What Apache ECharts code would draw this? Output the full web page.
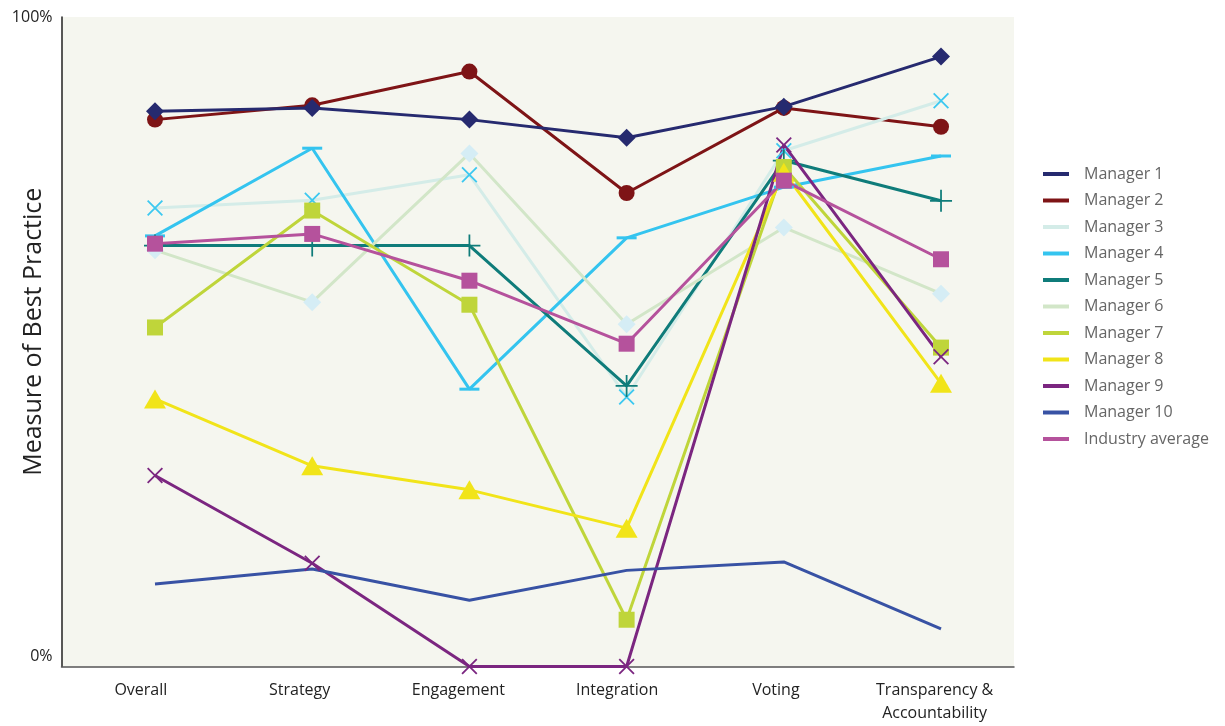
<!DOCTYPE html>
<html>
<head>
<meta charset="utf-8">
<script src="https://cdn.jsdelivr.net/npm/echarts@6/dist/echarts.min.js"></script>
<style>
  html, body { margin: 0; padding: 0; background: #fff; }
  #chart { width: 1225px; height: 726px; }
</style>
</head>
<body>
<div id="chart"></div>
<script>
// === Data ====================================================================
const categories = ['Overall', 'Strategy', 'Engagement', 'Integration', 'Voting', 'Transparency &\nAccountability'];
const yTicks = [0, 100];

const manager1  = [85.5, 86.0, 84.2, 81.4, 86.2, 93.9];
const manager2  = [84.2, 86.4, 91.6, 72.9, 86.0, 83.1];
const manager3  = [70.6, 71.8, 75.7, 41.5, 79.4, 87.1];
const manager4  = [66.3, 79.8, 42.7, 66.0, 73.8, 78.6];
const manager5  = [64.8, 64.8, 64.8, 43.2, 77.9, 71.7];
const manager6  = [64.1, 56.1, 79.0, 52.7, 67.6, 57.4];
const manager7  = [52.2, 70.2, 55.7,  7.2, 76.9, 49.1];
const manager8  = [41.2, 30.9, 27.2, 21.3, 76.1, 43.6];
const manager9  = [29.4, 15.9,  0.0,  0.0, 80.3, 47.7];
const manager10 = [12.7, 15.0, 10.2, 14.8, 16.1,  5.8];
const industry  = [65.1, 66.6, 59.4, 49.7, 74.8, 62.7];

// === Estilos =================================================================
const FONT = '"Open Sans", "Noto Sans", sans-serif';
const SYM_X    = 'path://M0,0.8L0.8,0L10,9.2L9.2,10ZM9.2,0L10,0.8L0.8,10L0,9.2Z';
const SYM_PLUS = 'path://M0,4.6H10V5.4H0ZM4.6,0H5.4V10H4.6Z';

// name, data, line color, marker color, symbol, size
const SERIES = [
  ['Manager 1',  manager1,  '#262a6f', '#262a6f', 'diamond',  [18, 18]],
  ['Manager 2',  manager2,  '#7e1416', '#7e1416', 'circle',   16],
  ['Manager 3',  manager3,  '#d4ece8', '#3cc8f0', SYM_X,      16],
  ['Manager 4',  manager4,  '#34c4ef', '#34c4ef', 'rect',     [20, 3]],
  ['Manager 5',  manager5,  '#0f7c7a', '#0f7c7a', SYM_PLUS,   22],
  ['Manager 6',  manager6,  '#d2e6c8', '#d5edf5', 'diamond',  [18, 18]],
  ['Manager 7',  manager7,  '#bfd53a', '#bfd53a', 'rect',     16],
  ['Manager 8',  manager8,  '#f1e419', '#f1e419', 'triangle', [22, 19]],
  ['Manager 9',  manager9,  '#7b2680', '#7b2680', SYM_X,      16],
  ['Manager 10', manager10, '#3852a4', '#3852a4', 'none',     0],
  ['Industry average', industry, '#b5529c', '#b5529c', 'rect', 16]
];

// eje de datos oculto: x=155 en 0 y x=941 en 5 (grid 61.5 -> 1014)
const X_MIN = -0.5948, X_MAX = 5.4642;

const chart = echarts.init(document.getElementById('chart'));
chart.setOption({
  animation: false,
  grid: {
    left: 61.5, right: 211, top: 17, bottom: 59.5,
    outerBoundsMode: 'none', containLabel: false,
    show: true, backgroundColor: '#f5f6ef', borderWidth: 0
  },
  legend: {
    orient: 'vertical', left: 1043, top: 164, padding: 0,
    itemWidth: 26, itemHeight: 4, itemGap: 6.5, icon: 'rect',
    textStyle: { color: '#666', fontSize: 16, fontFamily: FONT, lineHeight: 20, padding: [0, 0, 0, 10] },
    data: SERIES.map(s => ({ name: s[0], itemStyle: { color: s[2] } }))
  },
  xAxis: [
    {
      type: 'category', data: categories, boundaryGap: true, position: 'bottom',
      axisLine: { lineStyle: { color: '#555', width: 1.5 } },
      axisTick: { lineStyle: { color: '#ccc', width: 1.5 }, length: 11 },
      axisLabel: { color: '#222', fontSize: 16, fontFamily: FONT, margin: 12, lineHeight: 23 },
      splitLine: { show: false }
    },
    { type: 'value', min: X_MIN, max: X_MAX, show: false }
  ],
  yAxis: {
    type: 'value', min: yTicks[0], max: yTicks[1], interval: 100,
    name: 'Measure of Best Practice', nameLocation: 'middle', nameGap: 15, nameMoveOverlap: false,
    nameTextStyle: { color: '#222', fontSize: 25, fontFamily: FONT, padding: [0, 0, 0, 20] },
    axisLine: { show: true, onZero: false, lineStyle: { color: '#222', width: 1.5 } },
    axisTick: { show: false },
    splitLine: { show: false },
    axisLabel: {
      color: '#222', fontSize: 16, fontFamily: FONT, margin: 9,
      formatter: v => v === 0 ? '{lo|0%}' : '{hi|' + v + '%}',
      rich: {
        lo: { color: '#222', fontSize: 16, fontFamily: FONT, padding: [0, 0, 20, 0] },
        hi: { color: '#222', fontSize: 16, fontFamily: FONT }
      }
    }
  },
  series: SERIES.map((s, k) => ({
    name: s[0], type: 'line', xAxisIndex: 1, yAxisIndex: 0,
    data: s[1].map((v, i) => [i, v]),
    symbol: s[4], symbolSize: s[5], showSymbol: s[4] !== 'none',
    lineStyle: { color: s[2], width: 3 },
    itemStyle: { color: s[3] },
    z: k === 0 ? 5 : 2,
    emphasis: { disabled: true }
  }))
});
</script>
</body>
</html>
